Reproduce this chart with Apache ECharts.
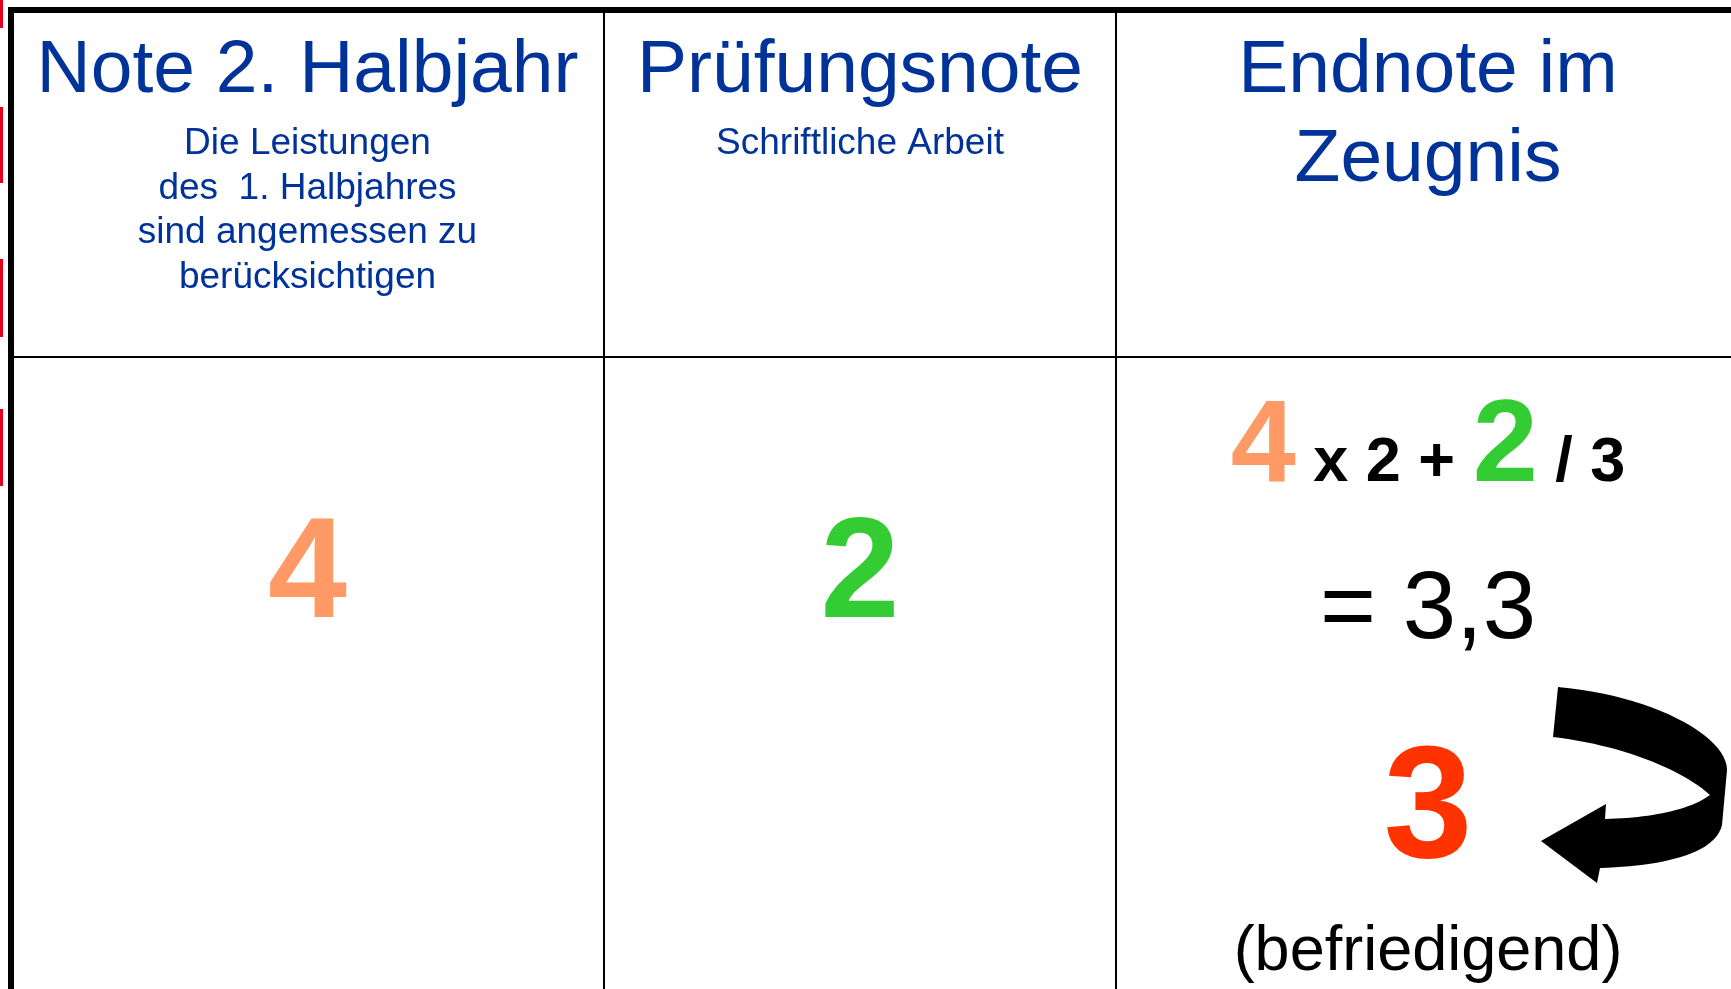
<!DOCTYPE html>
<html>
<head>
<meta charset="utf-8">
<script src="https://cdn.jsdelivr.net/npm/echarts@6/dist/echarts.min.js"></script>
<style>
html,body{margin:0;padding:0;background:#ffffff;overflow:hidden;}
#chart{width:1731px;height:989px;}
</style>
</head>
<body>
<div id="chart"></div>
<script>
// ---- data ----
const columnTitles = ['Note 2. Halbjahr', 'Prüfungsnote', 'Endnote im', 'Zeugnis'];
const columnNotes = [
  ['Die Leistungen', 'des  1. Halbjahres', 'sind angemessen zu', 'berücksichtigen'],
  ['Schriftliche Arbeit']
];
const halbjahrNote = 4;
const pruefungsNote = 2;
const gewichtHalbjahr = 2;
const teiler = 3;
const rechnerischeNote = '3,3';
const endnote = 3;
const endnoteWort = '(befriedigend)';

// ---- layout / style ----
const FONT = '"Liberation Sans", Arial, Helvetica, sans-serif';
const BLUE = '#003399', ORANGE = '#FF9966', GREEN = '#33CC33', RED = '#FF3300';
const K = 0.28; // baseline offset for 'middle' vertical alignment
const colEdges = [11, 604, 1116, 1740];
const colCenter = i => (colEdges[i] + colEdges[i + 1]) / 2;
const tableTop = 10, headerBottom = 357, H = 989, W = 1731;

const measureCtx = document.createElement('canvas').getContext('2d');
function fontStr(size, weight) { return (weight || 'normal') + ' ' + size + 'px ' + FONT; }
function measure(text, size, weight) { measureCtx.font = fontStr(size, weight); return measureCtx.measureText(text).width; }

function txt(x, baseline, text, size, weight, color, align) {
  return {
    type: 'text', x: x, y: baseline - K * size, z: 10,
    style: {
      text: String(text), font: fontStr(size, weight), fill: color,
      align: align || 'center', textAlign: align || 'center',
      verticalAlign: 'middle', textVerticalAlign: 'middle'
    }
  };
}
function line(x1, y1, x2, y2, w, color) {
  return { type: 'line', z: 5, shape: { x1: x1, y1: y1, x2: x2, y2: y2 }, style: { stroke: color || '#000', lineWidth: w } };
}

const g = [];
// red marks at left edge
[[0, 28], [107, 183], [259, 337], [409, 486]].forEach(r => {
  g.push({ type: 'rect', z: 5, shape: { x: 0, y: r[0], width: 3, height: r[1] - r[0] }, style: { fill: '#E3001B' } });
});
// table lines
g.push(line(colEdges[1], tableTop, colEdges[1], H, 2));
g.push(line(colEdges[2], tableTop, colEdges[2], H, 2));
g.push(line(colEdges[0], headerBottom, W + 10, headerBottom, 2));
g.push(line(colEdges[0] - 3, tableTop, W + 10, tableTop, 6));
g.push(line(colEdges[0], tableTop - 3, colEdges[0], H, 6));

// headers
g.push(txt(colCenter(0), 92.5, columnTitles[0], 75, 'normal', BLUE));
g.push(txt(colCenter(1), 92.5, columnTitles[1], 75, 'normal', BLUE));
g.push(txt(colCenter(2), 92.5, columnTitles[2], 75, 'normal', BLUE));
g.push(txt(colCenter(2), 181.5, columnTitles[3], 75, 'normal', BLUE));
columnNotes.forEach((lines, ci) => {
  lines.forEach((l, li) => g.push(txt(colCenter(ci), 154 + li * 44.7, l, 37, 'normal', BLUE)));
});

// body grades
g.push(txt(colCenter(0), 618, halbjahrNote, 142, 'bold', ORANGE));
g.push(txt(colCenter(1), 618, pruefungsNote, 142, 'bold', GREEN));

// formula: 4 x 2 + 2 / 3
const pieces = [
  [String(halbjahrNote), 117, ORANGE],
  [' x ' + gewichtHalbjahr + ' + ', 63, '#000'],
  [String(pruefungsNote), 117, GREEN],
  [' / ' + teiler, 63, '#000']
];
const widths = pieces.map(p => measure(p[0], p[1], 'bold'));
let fx = colCenter(2) - widths.reduce((a, b) => a + b, 0) / 2;
pieces.forEach((p, i) => {
  g.push(txt(fx, 481, p[0], p[1], 'bold', p[2], 'left'));
  fx += widths[i];
});
g.push(txt(colCenter(2), 638, '= ' + rechnerischeNote, 96, 'normal', '#000'));
g.push(txt(colCenter(2), 858, endnote, 160, 'bold', RED));
g.push(txt(colCenter(2), 970, endnoteWort, 63, 'normal', '#000'));

// curved arrow outline (decorative shape): start point followed by segments
const arrowStart = [1558, 687];
const arrowSegs = [
  ['C', 1650, 695, 1727, 735, 1727, 770],
  ['L', 1722, 825],
  ['C', 1715, 855, 1660, 866, 1600, 868],
  ['L', 1597, 883],
  ['L', 1541, 841],
  ['L', 1606, 804],
  ['L', 1605, 819],
  ['C', 1650, 818, 1690, 810, 1710, 795],
  ['C', 1680, 768, 1620, 745, 1553, 737]
];
const arrowPts = [arrowStart.slice()];
let cur = arrowStart.slice();
arrowSegs.forEach(s => {
  if (s[0] === 'L') { cur = [s[1], s[2]]; arrowPts.push(cur); }
  else {
    const p0 = cur, p1 = [s[1], s[2]], p2 = [s[3], s[4]], p3 = [s[5], s[6]];
    for (let i = 1; i <= 24; i++) {
      const t = i / 24, u = 1 - t;
      arrowPts.push([
        u*u*u*p0[0] + 3*u*u*t*p1[0] + 3*u*t*t*p2[0] + t*t*t*p3[0],
        u*u*u*p0[1] + 3*u*u*t*p1[1] + 3*u*t*t*p2[1] + t*t*t*p3[1]
      ]);
    }
    cur = p3;
  }
});
g.push({ type: 'polygon', z: 8, shape: { points: arrowPts }, style: { fill: '#000' } });

const chart = echarts.init(document.getElementById('chart'), null, { renderer: 'canvas' });
chart.setOption({
  backgroundColor: '#ffffff',
  animation: false,
  graphic: { elements: g }
});
</script>
</body>
</html>
